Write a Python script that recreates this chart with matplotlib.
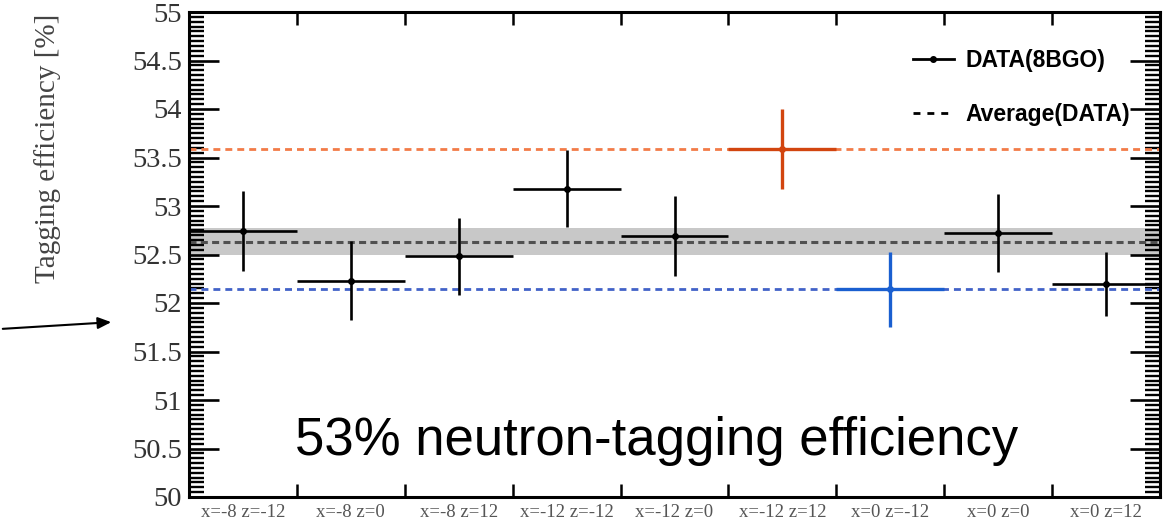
import matplotlib
matplotlib.use("Agg")
import matplotlib.pyplot as plt
from matplotlib.lines import Line2D
import numpy as np

# ---- data ----
categories = ["x=-8 z=-12", "x=-8 z=0", "x=-8 z=12",
              "x=-12 z=-12", "x=-12 z=0", "x=-12 z=12",
              "x=0 z=-12", "x=0 z=0", "x=0 z=12"]
efficiency = [52.74, 52.23, 52.48, 53.18, 52.69, 53.59, 52.14, 52.72, 52.20]
errors = [0.41, 0.41, 0.40, 0.40, 0.41, 0.41, 0.39, 0.40, 0.33]
point_colors = ["black", "black", "black", "black", "black", "#d2450f",
                "#1a5fd0", "black", "black"]
average = 52.63
average_err = 0.14
y_ticks = [50, 50.5, 51, 51.5, 52, 52.5, 53, 53.5, 54, 54.5, 55]
y_ticklabels = ["50", "50.5", "51", "51.5", "52", "52.5", "53", "53.5", "54", "54.5", "55"]

serif = ["Liberation Serif", "DejaVu Serif"]
sans = ["Liberation Sans", "DejaVu Sans"]

fig = plt.figure(figsize=(11.76, 5.23), dpi=100)
ax = fig.add_axes([189/1176, 1-497/523, (1160-189)/1176, (497-12)/523])

x = np.arange(len(categories))

# band and reference lines
ax.axhspan(average - average_err, average + average_err, color="#c8c8c8", lw=0, zorder=1)
ax.axhline(average, color="#505050", lw=2.2, dashes=(2.3, 1.4), zorder=2)
ax.axhline(max(efficiency), color="#f27b48", lw=2.0, dashes=(2.5, 1.8), zorder=2)
ax.axhline(min(efficiency), color="#4262c8", lw=2.0, dashes=(2.5, 1.8), zorder=2)

for xi, yi, ei, ci in zip(x, efficiency, errors, point_colors):
    lw = 2.4 if ci != "black" else 1.9
    ax.errorbar(xi, yi, yerr=ei, xerr=0.5, fmt="o", ms=4, color=ci,
                ecolor=ci, elinewidth=lw, capsize=0, zorder=3)

ax.set_xlim(-0.5, len(categories) - 0.5)
ax.set_ylim(50, 55)

# y axis ticks (ROOT-like, both sides, inward)
ax.set_yticks(y_ticks)
ax.set_yticklabels(y_ticklabels, family=serif, fontsize=20.5, color="#333333")
ax.set_yticks(np.arange(50, 55.001, 0.05), minor=True)
ax.tick_params(axis="y", which="major", direction="in", length=21.5, width=1.9,
               left=True, right=True, pad=5)
ax.tick_params(axis="y", which="minor", direction="in", length=10.5, width=1.7,
               left=True, right=True)

# x axis: labels at centers, ticks at bin edges
ax.set_xticks(x)
ax.set_xticklabels(categories, family=serif, fontsize=13.5, color="#555555")
ax.tick_params(axis="x", which="major", length=0, pad=5)
ax.set_xticks(np.arange(0.5, len(categories) - 0.5, 1.0), minor=True)
ax.tick_params(axis="x", which="minor", direction="in", length=9.5, width=1.8,
               top=True, bottom=True)

for s in ax.spines.values():
    s.set_linewidth(2.2)
    s.set_color("black")

ax.set_ylabel("Tagging efficiency [%]", family=serif, fontsize=21, color="#444444")
ax.yaxis.set_label_coords(-0.132, 0.718)

# legend
handles = [Line2D([], [], color="black", marker="o", ms=4, lw=2.0),
           Line2D([], [], color="black", lw=2.0, dashes=(2.5, 2.5))]
leg = fig.legend(handles, ["DATA(8BGO)", "Average(DATA)"],
                 loc="upper right", bbox_to_anchor=(1130/1176, 1-49/523),
                 frameon=False, borderpad=0, borderaxespad=0,
                 handlelength=1.8, handletextpad=0.5, labelspacing=1.35,
                 prop={"family": sans, "weight": "bold", "size": 16.5})

# annotation text and arrow
fig.text(295/1176, 1-455/523, "53% neutron-tagging efficiency",
         family=sans, fontsize=38, color="black", va="baseline", ha="left")
fig.add_artist(matplotlib.patches.FancyArrowPatch(
    (0/1176, 1-329/523), (114/1176, 1-322/523), transform=fig.transFigure,
    arrowstyle="-|>,head_length=8,head_width=3.5", mutation_scale=1,
    color="black", lw=1.5))

fig.savefig("out.png", dpi=100)
